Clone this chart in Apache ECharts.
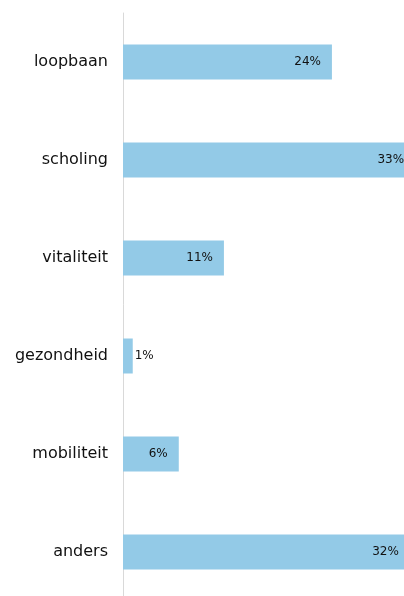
<!DOCTYPE html>
<html lang="nl">
<head>
<meta charset="UTF-8">
<title>Thema's</title>
<script src="https://cdn.jsdelivr.net/npm/echarts@6/dist/echarts.min.js"></script>
<style>
  html, body { margin: 0; padding: 0; background: #fff; }
  #chart { width: 404px; height: 596px; }
</style>
</head>
<body>
<div id="chart"></div>
<script>
  // categorieen, van boven naar beneden
  var categories = ['loopbaan', 'scholing', 'vitaliteit', 'gezondheid', 'mobiliteit', 'anders'];
  var values = [23.6, 33, 11.4, 1.1, 6.3, 32.4];
  // balken die te kort zijn voor een label erin
  var outsideLabel = ['gezondheid'];

  var chart = echarts.init(document.getElementById('chart'));

  var seriesData = values.map(function (v, i) {
    var item = { value: v };
    if (outsideLabel.indexOf(categories[i]) > -1) {
      item.label = { position: 'right', distance: 2 };
    }
    return item;
  });

  chart.setOption({
    animation: false,
    backgroundColor: '#fff',
    grid: {
      left: 123,
      right: -20,
      top: 13,
      bottom: -5,
      containLabel: false,
      outerBoundsMode: 'none'
    },
    xAxis: {
      type: 'value',
      min: 0,
      max: 34,
      show: false
    },
    yAxis: {
      type: 'category',
      data: categories,
      inverse: true,
      axisLine: { show: true, lineStyle: { color: '#d9d9d9', width: 1 } },
      axisTick: { show: false },
      axisLabel: {
        color: '#111',
        fontFamily: 'DejaVu Sans',
        fontSize: 16,
        margin: 15
      }
    },
    series: [{
      type: 'bar',
      data: seriesData,
      barWidth: 35,
      itemStyle: { color: '#93cae7' },
      label: {
        show: true,
        position: 'insideRight',
        distance: 11,
        color: '#111',
        fontFamily: 'DejaVu Sans',
        fontSize: 12,
        formatter: function (p) { return Math.round(p.value) + '%'; }
      }
    }]
  });
</script>
</body>
</html>
